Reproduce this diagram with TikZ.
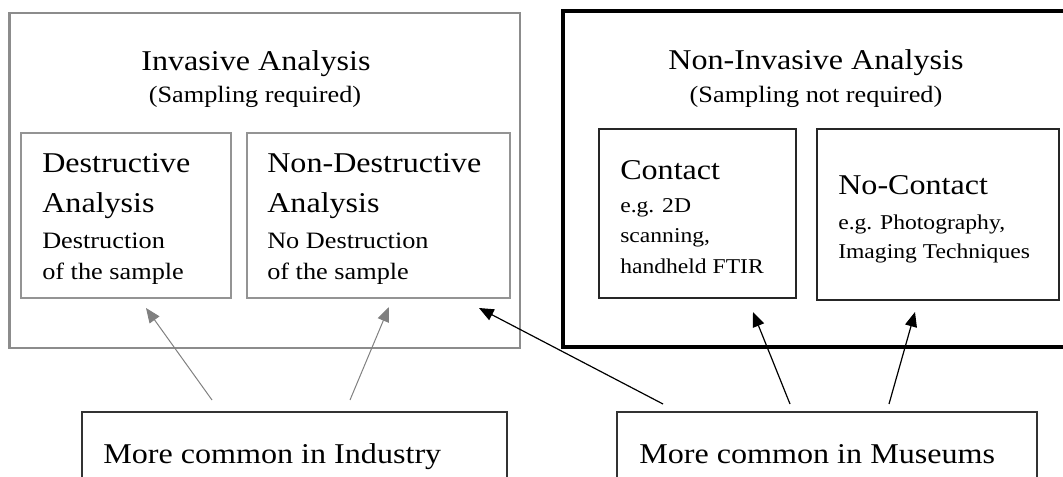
\documentclass[tikz,border=0pt]{standalone}
\usepackage{fontspec}
\setmainfont{Liberation Serif}[FakeStretch=1.12]
\usetikzlibrary{arrows.meta,fit}
\tikzset{
  outerL/.style={draw=black!45, line width=2.2pt, inner sep=0pt},
  outerR/.style={draw=black, line width=2.3pt, inner sep=0pt},
  innerL/.style={draw=black!42, line width=0.8pt, inner sep=0pt},
  innerR/.style={draw=black!85, line width=1.1pt, inner sep=0pt},
  bottombox/.style={draw=black!80, line width=1.1pt, inner sep=0pt},
  txt/.style={inner sep=0pt, anchor=base west},
  ctxt/.style={inner sep=0pt, anchor=base},
  big/.style={font=\fontsize{21.5pt}{24pt}\selectfont},
  subL/.style={font=\fontsize{17.6pt}{20pt}\selectfont},
  subR/.style={font=\fontsize{15.8pt}{18pt}\selectfont},
  grayarrow/.style={draw=black!50, line width=0.75pt, -{Triangle[length=11pt,width=9pt]}},
  blackarrow/.style={draw=black, line width=0.9pt, -{Triangle[length=11pt,width=9pt]}},
}
\begin{document}
\begin{tikzpicture}[x=0.75pt,y=-0.75pt]
\useasboundingbox (0,0) rectangle (1063,477);
% outer boxes
\node[outerL, fit={(9.6,13) (520,348)}] (inv) {};
\node[outerR, fit={(563,11) (1066,347)}] (noninv) {};
% inner boxes
\node[innerL, fit={(21,133) (231,298)}] (destr) {};
\node[innerL, fit={(247,133) (510,298)}] (nondestr) {};
\node[innerR, fit={(599,129) (796,298)}] (contact) {};
\node[innerR, fit={(817,129) (1059,300)}] (nocontact) {};
% bottom boxes
\node[bottombox, fit={(82,412) (507,495)}] (industry) {};
\node[bottombox, fit={(617,412) (1037,495)}] (museums) {};
% texts
\node[ctxt, big] (t1) at (256,71) {Invasive Analysis};
\node[ctxt, subL] (t2) at (255,103) {(Sampling required)};
\node[txt, big] (d1) at (42,173) {Destructive};
\node[txt, big] (d2) at (42,213) {Analysis};
\node[txt, subL] (d3) at (42,248) {Destruction};
\node[txt, subL] (d4) at (42,279) {of the sample};
\node[txt, big] (n1) at (267,173) {Non-Destructive};
\node[txt, big] (n2) at (267,213) {Analysis};
\node[txt, subL] (n3) at (267,248) {No Destruction};
\node[txt, subL] (n4) at (267,279) {of the sample};
\node[ctxt, big] (r1) at (816,70) {Non-Invasive Analysis};
\node[ctxt, subL] (r2) at (816,103) {(Sampling not required)};
\node[txt, big] (c1) at (620,180) {Contact};
\node[txt, subR] (c2) at (620,213) {e.g. 2D};
\node[txt, subR] (c3) at (620,243) {scanning,};
\node[txt, subR] (c4) at (620,273) {handheld FTIR};
\node[txt, big] (k1) at (838,195) {No-Contact};
\node[txt, subR] (k2) at (838,230) {e.g. Photography,};
\node[txt, subR] (k3) at (838,258) {Imaging Techniques};
\node[txt, big] (b1) at (103,463) {More common in Industry};
\node[txt, big] (b2) at (639,463) {More common in Museums};
% arrow end points
\coordinate (s1) at (212,400);
\coordinate (e1) at (146,308);
\coordinate (s2) at (350,400);
\coordinate (e2) at (389,307);
\coordinate (s3) at (663,404);
\coordinate (e3) at (479,308);
\coordinate (s4) at (790,404);
\coordinate (e4) at (753,312);
\coordinate (s5) at (889,404);
\coordinate (e5) at (915,312);
\draw[grayarrow] (s1) -- (e1);
\draw[grayarrow] (s2) -- (e2);
\draw[blackarrow] (s3) -- (e3);
\draw[blackarrow] (s4) -- (e4);
\draw[blackarrow] (s5) -- (e5);
\end{tikzpicture}
\end{document}
